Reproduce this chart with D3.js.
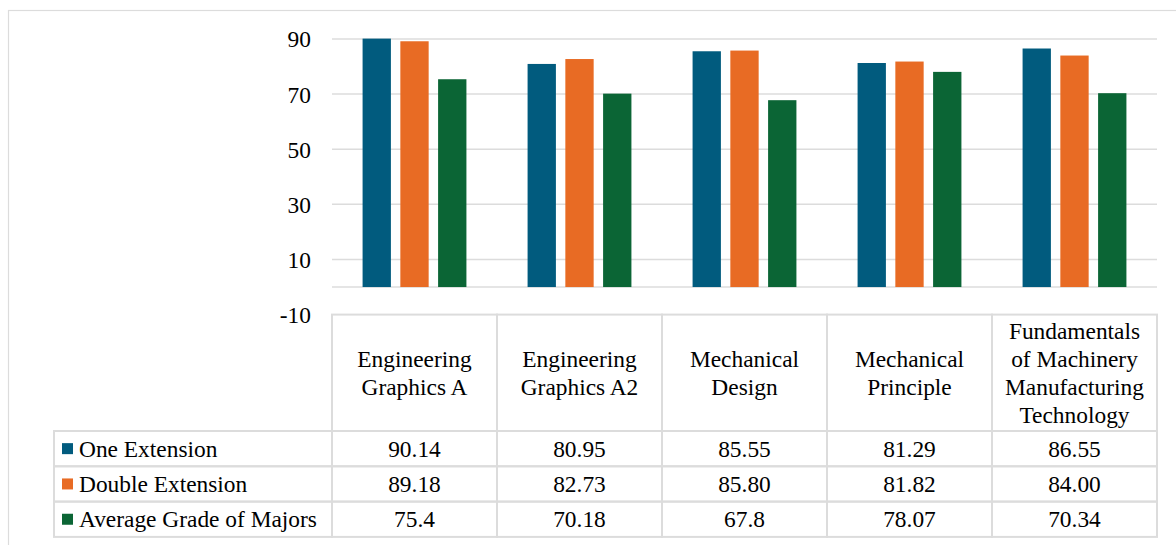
<!DOCTYPE html>
<html>
<head>
<meta charset="utf-8">
<script src="https://cdn.jsdelivr.net/npm/d3@7"></script>
<style>
  body { margin: 0; background: #fff; }
</style>
</head>
<body>
<div id="vis"></div>
<script>
let categories = ['Engineering Graphics A', 'Engineering Graphics A2', 'Mechanical Design', 'Mechanical Principle', 'Fundamentals of Machinery Manufacturing Technology']
let seriesNames = ['One Extension', 'Double Extension', 'Average Grade of Majors']
let oneExtension = [90.14, 80.95, 85.55, 81.29, 86.55]
let doubleExtension = [89.18, 82.73, 85.80, 81.82, 84.00]
let averageGrade = [75.4, 70.18, 67.8, 78.07, 70.34]
let tableText = [
  ['90.14', '80.95', '85.55', '81.29', '86.55'],
  ['89.18', '82.73', '85.80', '81.82', '84.00'],
  ['75.4', '70.18', '67.8', '78.07', '70.34']
]
let yTicks = [-10, 10, 30, 50, 70, 90]
let colors = ['#015b7e', '#e86b24', '#0b6535']

let seriesValues = [oneExtension, doubleExtension, averageGrade]

let width = 1176, height = 545
let fontFam = '"Liberation Serif", "DejaVu Serif", "Times New Roman", serif'
let gridColor = '#dcdcdc'

let svg = d3.select('#vis')
  .append('svg')
  .attr('width', width)
  .attr('height', height)
  .style('font-family', fontFam)

// pick a size so the longest legend label is ~244px wide, like the picture
let probe = svg.append('text').style('font-family', fontFam).style('font-size', '100px').text('Average Grade of Majors')
let fontSize = Math.min(23.4, 100 * 244 / probe.node().getComputedTextLength())
probe.remove()

// outer chart frame (runs off right/bottom like the screenshot)
svg.append('rect')
  .attr('x', 8.5).attr('y', 10.5)
  .attr('width', 1300).attr('height', 700)
  .attr('fill', 'none')
  .attr('stroke', gridColor)
  .attr('stroke-width', 1.2)

let plotLeft = 332, plotRight = 1157
let headerBottom = 431, rowH = 35.3
let legendLeft = 54

let xScale = d3.scaleBand()
  .domain(categories)
  .range([plotLeft, plotRight])
  .padding(0)

let xInner = d3.scaleBand()
  .domain(seriesNames)
  .range([0, xScale.bandwidth()])
  .paddingInner(0.25)
  .paddingOuter(0.81)

let yScale = d3.scaleLinear()
  .domain([-10, 90])
  .range([314.6, 39])

// gridlines
svg.append('g')
  .selectAll('line')
  .data(yTicks.filter(d => d > -10).concat([0]))
  .join('line')
  .attr('x1', plotLeft)
  .attr('x2', plotRight)
  .attr('y1', d => yScale(d))
  .attr('y2', d => yScale(d))
  .attr('stroke', gridColor)
  .attr('stroke-width', 1.5)

// y axis labels
let yAxis = svg.append('g')
  .attr('transform', `translate(${plotLeft - 21},0)`)
  .call(d3.axisLeft(yScale).tickValues(yTicks).tickFormat(d => String(d)).tickSize(0).tickPadding(0))
yAxis.attr('font-family', null).attr('font-size', null)
yAxis.select('.domain').remove()
yAxis.selectAll('text')
  .style('font-family', fontFam)
  .style('font-size', fontSize + 'px')
  .attr('fill', '#000')
  .attr('dy', '0.34em')

// bars
let groups = svg.append('g')
  .selectAll('g')
  .data(categories)
  .join('g')
  .attr('transform', d => `translate(${xScale(d)},0)`)

groups.selectAll('rect')
  .data((c, i) => seriesNames.map((s, j) => ({ s: s, v: seriesValues[j][i], j: j })))
  .join('rect')
  .attr('x', d => xInner(d.s))
  .attr('width', xInner.bandwidth())
  .attr('y', d => yScale(d.v))
  .attr('height', d => yScale(0) - yScale(d.v))
  .attr('fill', d => colors[d.j])

// data table
let table = svg.append('g')
let tableTop = yScale(-10)
let lineStyle = sel => sel.attr('stroke', gridColor).attr('stroke-width', 2).attr('fill', 'none')

// header cells
categories.forEach(c => {
  table.append('rect')
    .attr('x', xScale(c)).attr('y', tableTop)
    .attr('width', xScale.bandwidth()).attr('height', headerBottom - tableTop)
    .call(lineStyle)
})
// rows
seriesNames.forEach((s, j) => {
  let y0 = headerBottom + j * rowH
  table.append('rect')
    .attr('x', legendLeft).attr('y', y0)
    .attr('width', plotLeft - legendLeft).attr('height', rowH)
    .call(lineStyle)
  categories.forEach(c => {
    table.append('rect')
      .attr('x', xScale(c)).attr('y', y0)
      .attr('width', xScale.bandwidth()).attr('height', rowH)
      .call(lineStyle)
  })
})

// wrapped header labels
function wrapWords(text, maxW) {
  let tmp = svg.append('text').style('font-family', fontFam).style('font-size', fontSize + 'px')
  let words = text.split(' '), lines = [], cur = ''
  words.forEach(w => {
    let test = cur ? cur + ' ' + w : w
    tmp.text(test)
    if (tmp.node().getComputedTextLength() > maxW && cur) {
      lines.push(cur)
      cur = w
    } else cur = test
  })
  lines.push(cur)
  tmp.remove()
  return lines
}

let lineH = 28
categories.forEach(c => {
  let lines = wrapWords(c, 150)
  let cy = (tableTop + headerBottom) / 2
  let t = table.append('text')
    .style('font-family', fontFam)
    .style('font-size', fontSize + 'px')
    .attr('text-anchor', 'middle')
  lines.forEach((l, k) => {
    t.append('tspan')
      .attr('x', xScale(c) + xScale.bandwidth() / 2)
      .attr('y', cy + (k - (lines.length - 1) / 2) * lineH)
      .attr('dy', '0.34em')
      .text(l)
  })
})

// row content
seriesNames.forEach((s, j) => {
  let cy = headerBottom + j * rowH + rowH / 2
  table.append('rect')
    .attr('x', 62).attr('y', cy - 5.5)
    .attr('width', 11).attr('height', 11)
    .attr('fill', colors[j])
  table.append('text')
    .attr('x', 79).attr('y', cy)
    .attr('dy', '0.34em')
    .style('font-family', fontFam)
    .style('font-size', fontSize + 'px')
    .text(s)
  categories.forEach((c, i) => {
    table.append('text')
      .attr('x', xScale(c) + xScale.bandwidth() / 2)
      .attr('y', cy)
      .attr('dy', '0.34em')
      .attr('text-anchor', 'middle')
      .style('font-family', fontFam)
      .style('font-size', fontSize + 'px')
      .text(tableText[j][i])
  })
})
</script>
</body>
</html>
